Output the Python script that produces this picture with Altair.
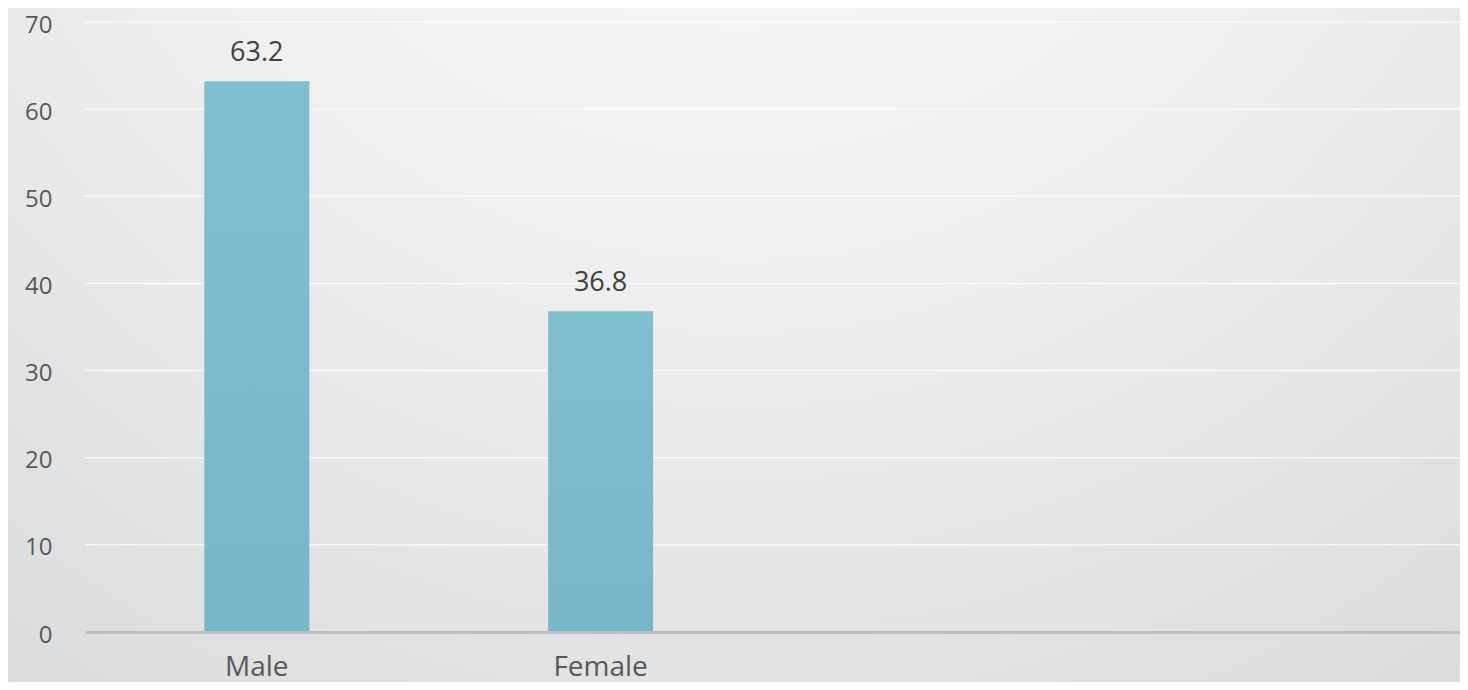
import altair as alt
import pandas as pd

categories = ["Male", "Female"]
values = [63.2, 36.8]
slots = ["Male", "Female", " ", "  "]
y_ticks = [0, 10, 20, 30, 40, 50, 60, 70]

W, H = 1375, 610
df = pd.DataFrame({"cat": categories, "val": values})
grid_df = pd.DataFrame({"val": y_ticks[1:]})

bg = alt.Chart(pd.DataFrame({"a": [0]})).mark_rect(
    color={
        "gradient": "radial",
        "x1": 0.5, "y1": 0.0, "r1": 0,
        "x2": 0.5, "y2": 0.0, "r2": 1.05,
        "stops": [
            {"offset": 0, "color": "#fbfbfb"},
            {"offset": 0.4, "color": "#f0f0f1"},
            {"offset": 1, "color": "#d2d4d5"},
        ],
    }
).encode(x=alt.value(-80), x2=alt.value(W + 10), y=alt.value(-16), y2=alt.value(H + 60))

yscale = alt.Scale(domain=[0, 70], nice=False)
y_axis = alt.Axis(
    title=None, values=y_ticks, ticks=False, domain=False, labelPadding=33,
    labelFontSize=24, labelColor="#595959", labelFont="Open Sans", labelOffset=3,
    grid=False, zindex=1,
)

grid = alt.Chart(grid_df).mark_rule(color="#ffffff", opacity=0.75, strokeWidth=1.5).encode(
    y=alt.Y("val:Q", scale=yscale, axis=y_axis)
)

x_enc = alt.X(
    "cat:N",
    scale=alt.Scale(domain=slots, paddingInner=0.6945, paddingOuter=0.347),
    sort=slots,
    axis=alt.Axis(
        title=None, labelAngle=0, ticks=False, labelPadding=21,
        labelFontSize=28, labelColor="#595959", labelFont="Open Sans",
        domainColor="#bfbfbf", domainWidth=3, grid=False, zindex=1,
    ),
)

bars = alt.Chart(df).mark_bar(
    color={
        "gradient": "linear", "x1": 0, "y1": 0, "x2": 0, "y2": 1,
        "stops": [
            {"offset": 0, "color": "#80bfcf"},
            {"offset": 1, "color": "#77b7c8"},
        ],
    }
).encode(x=x_enc, y=alt.Y("val:Q", scale=yscale, axis=y_axis))

labels = alt.Chart(df).mark_text(
    baseline="alphabetic", dy=-20, fontSize=27, color="#404040", font="Open Sans"
).encode(x=alt.X("cat:N", sort=slots), y="val:Q", text=alt.Text("val:Q", format=".1f"))

chart = alt.layer(bg, grid, bars, labels).properties(
    width=W, height=H,
    autosize=alt.AutoSizeParams(type="none"),
    padding={"left": 77, "top": 14, "right": 0, "bottom": 50},
).configure_view(strokeWidth=0).configure(background="#e8e9ea")

chart.save("out.html", embed_options={"renderer": "svg", "actions": False})
